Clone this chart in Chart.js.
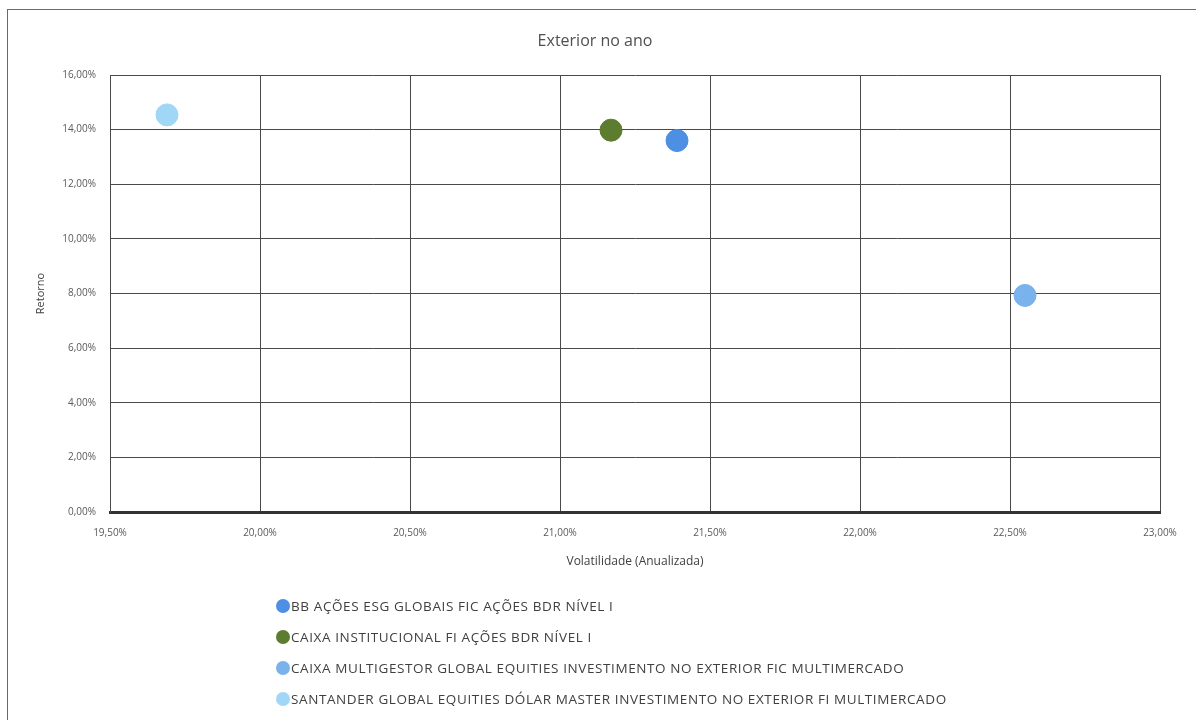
<!DOCTYPE html>
<html>
<head>
<meta charset="utf-8">
<script src="https://cdn.jsdelivr.net/npm/chart.js@4"></script>
<style>
  html, body { margin: 0; padding: 0; background: #fff; overflow: hidden; }
  #wrap { position: relative; width: 1196px; height: 720px; }
  #frame { position: absolute; left: 7px; top: 9px; width: 1200px; height: 720px; border: 1.5px solid #6a6a6a; box-sizing: border-box; pointer-events: none; }
  canvas { position: absolute; left: 0; top: 0; }
  #legend { position: absolute; left: 276px; top: 590px; font-family: "Open Sans", sans-serif; font-size: 13.5px; letter-spacing: 0.6px; color: #404040; }
  .item { height: 31px; display: flex; align-items: center; white-space: nowrap; }
  .dot { width: 14px; height: 14px; border-radius: 50%; margin-right: 1px; flex: none; }
</style>
</head>
<body>
<div id="wrap">
  <canvas id="c" width="1196" height="720"></canvas>
  <div id="frame"></div>
  <div id="legend"></div>
</div>
<script>
const seriesNames = [
  "BB AÇÕES ESG GLOBAIS FIC AÇÕES BDR NÍVEL I",
  "CAIXA INSTITUCIONAL FI AÇÕES BDR NÍVEL I",
  "CAIXA MULTIGESTOR GLOBAL EQUITIES INVESTIMENTO NO EXTERIOR FIC MULTIMERCADO",
  "SANTANDER GLOBAL EQUITIES DÓLAR MASTER INVESTIMENTO NO EXTERIOR FI MULTIMERCADO"
];
const volatility = [21.39, 21.17, 22.55, 19.69];
const returns = [13.60, 13.98, 7.93, 14.54];
const seriesColors = ["#4c8fe3", "#5c7c30", "#7ab2ec", "#a0d6f6"];

const fmt = v => Number(v).toFixed(2).replace('.', ',') + '%';

const datasets = seriesNames.map((name, i) => ({
  label: name,
  data: [{ x: volatility[i], y: returns[i] }],
  backgroundColor: seriesColors[i],
  borderColor: seriesColors[i],
  pointRadius: 11,
  pointHoverRadius: 11
}));

const FONT = "'Open Sans', sans-serif";

new Chart(document.getElementById('c'), {
  type: 'scatter',
  data: { datasets },
  options: {
    responsive: false,
    animation: false,
    layout: { padding: { left: 30, right: 36, top: 20, bottom: 147 } },
    plugins: {
      legend: { display: false },
      tooltip: { enabled: false },
      title: {
        display: true,
        text: 'Exterior no ano',
        color: '#505050',
        font: { family: FONT, size: 16, weight: 'normal' },
        padding: { top: 11.4, bottom: 24.4 }
      }
    },
    scales: {
      x: {
        type: 'linear',
        min: 19.5, max: 23,
        ticks: { stepSize: 0.5, callback: fmt, color: '#595959', font: { family: FONT, size: 10 }, padding: 15, maxRotation: 0 },
        grid: { color: '#4a4a4a', lineWidth: 1, drawTicks: false },
        border: { display: true, color: '#333333', width: 3 },
        title: { display: true, text: 'Volatilidade (Anualizada)', color: '#404040', font: { family: FONT, size: 12 } },
        afterFit: s => { s.height = 61; }
      },
      y: {
        type: 'linear',
        min: 0, max: 16,
        ticks: { stepSize: 2, callback: fmt, color: '#595959', font: { family: FONT, size: 10 }, padding: 14 },
        grid: { color: '#4a4a4a', lineWidth: 1, drawTicks: false },
        border: { display: true, color: '#4a4a4a', width: 1 },
        title: { display: true, text: 'Retorno', color: '#404040', font: { family: FONT, size: 11 } },
        afterFit: s => { s.width = 80; }
      }
    }
  }
});

const leg = document.getElementById('legend');
seriesNames.forEach((name, i) => {
  const row = document.createElement('div');
  row.className = 'item';
  const dot = document.createElement('span');
  dot.className = 'dot';
  dot.style.background = seriesColors[i];
  const txt = document.createElement('span');
  txt.textContent = name;
  row.appendChild(dot); row.appendChild(txt);
  leg.appendChild(row);
});
</script>
</body>
</html>
